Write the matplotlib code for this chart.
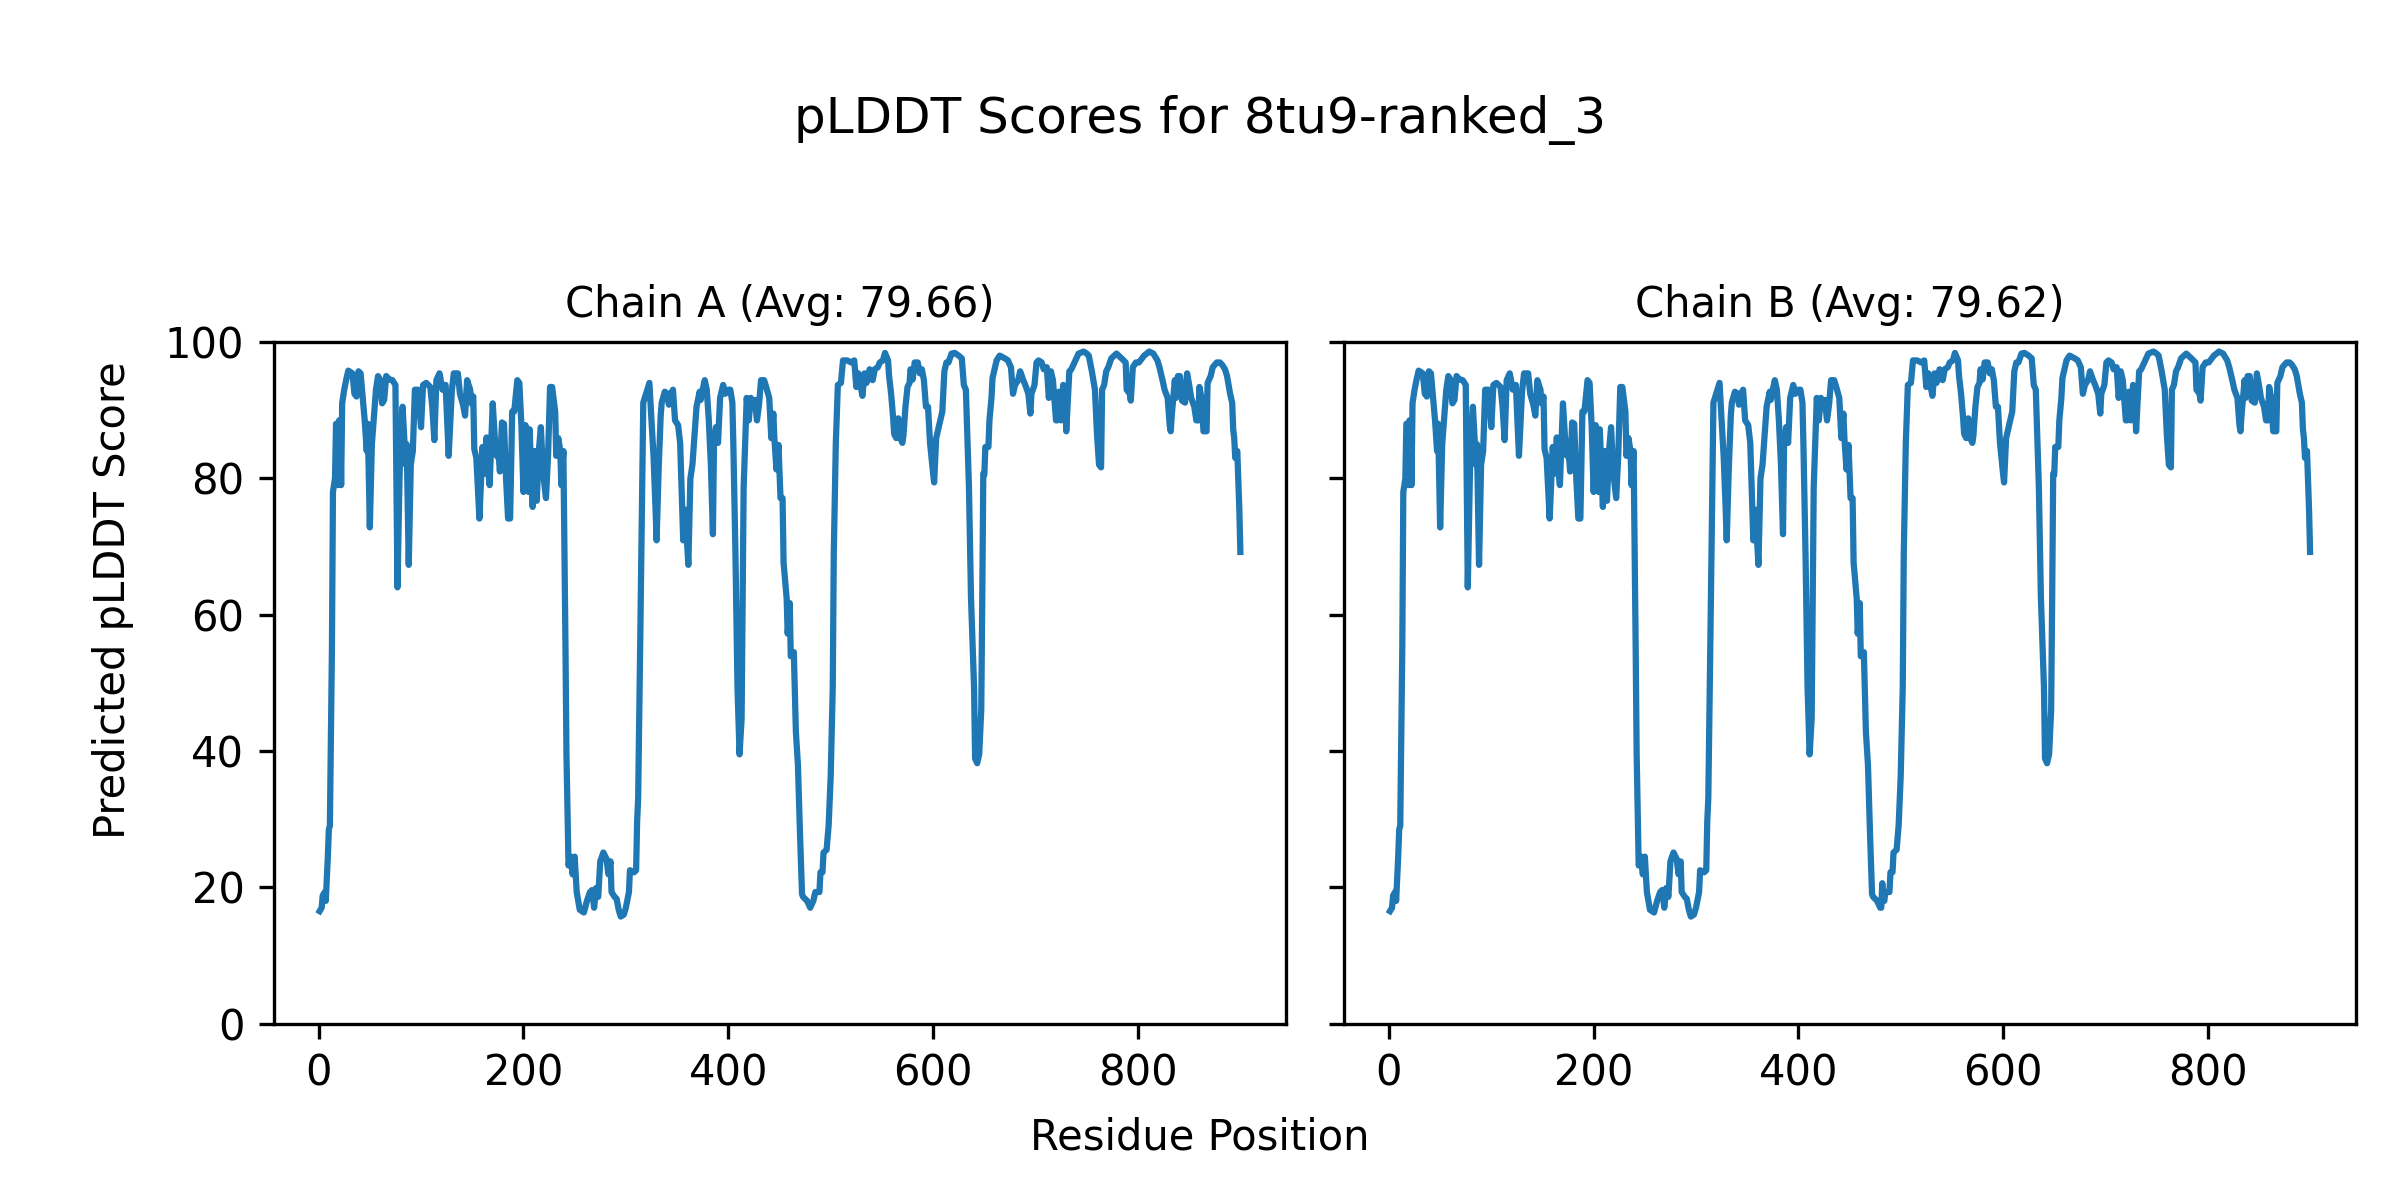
import matplotlib
matplotlib.use("Agg")
import matplotlib.pyplot as plt

LINE = "#1f77b4"

# (residue, pLDDT), chain A
chain_a_points = [
    (1, 16.5), (3, 17.0), (4, 18.8), (6, 19.3), (7, 18.0), (9, 24.5), (10, 28.5),
    (11, 29.0), (13, 55.0), (14, 78.0), (16, 80.0), (17, 88.0), (18, 88.0),
    (19, 79.0), (20, 88.5), (21, 88.5), (22, 79.0), (23, 91.0), (25, 93.0),
    (27, 94.5), (29, 95.8), (31, 95.6), (33, 95.4), (35, 92.4), (37, 92.0),
    (39, 95.7), (41, 95.4), (43, 92.0), (45, 88.5), (47, 84.0), (48, 88.0),
    (50, 72.8), (52, 85.0), (54, 89.0), (56, 93.0), (58, 95.0), (60, 94.5),
    (62, 91.0), (64, 91.5), (66, 95.0), (69, 94.5), (72, 94.4), (75, 93.7),
    (77, 64.0), (79, 80.0), (80, 86.0), (82, 90.5), (85, 82.0), (86, 85.0),
    (88, 67.3), (90, 82.0), (92, 84.0), (94, 93.0), (97, 93.0), (100, 87.5),
    (102, 93.7), (105, 94.0), (109, 93.4), (111, 90.5), (113, 85.6), (115, 94.4),
    (118, 95.4), (121, 93.0), (124, 93.7), (127, 83.3), (130, 92.7), (132, 95.4),
    (136, 95.4), (138, 92.4), (141, 90.8), (143, 89.2), (145, 94.4), (148, 93.0),
    (149, 91.0), (151, 92.0), (152, 84.3), (154, 83.0), (157, 74.1), (160, 84.6),
    (162, 80.7), (164, 86.0), (165, 82.0), (167, 79.0), (170, 91.0), (172, 86.0),
    (174, 83.3), (176, 83.0), (177, 81.0), (179, 88.2), (181, 88.0), (183, 80.0),
    (185, 74.1), (187, 74.1), (189, 89.8), (191, 89.8), (194, 94.4), (196, 94.0),
    (198, 87.8), (200, 78.0), (202, 87.8), (205, 78.0), (206, 87.2), (209, 75.8),
    (211, 84.0), (213, 76.7), (215, 84.0), (217, 87.5), (219, 81.0), (222, 77.1),
    (224, 83.3), (226, 93.4), (228, 93.4), (231, 89.8), (232, 83.3), (234, 85.9),
    (236, 84.0), (237, 79.0), (239, 84.0), (241, 55.8), (242, 39.5), (244, 23.2),
    (246, 24.5), (248, 21.9), (250, 24.5), (252, 19.3), (255, 16.7), (259, 16.3),
    (262, 18.0), (265, 19.3), (267, 19.6), (269, 17.0), (271, 19.9), (273, 18.6),
    (275, 23.8), (278, 25.1), (281, 24.2), (283, 21.9), (285, 23.8), (286, 19.3),
    (289, 18.6), (291, 18.3), (293, 16.7), (295, 15.7), (298, 16.0), (300, 17.0),
    (303, 19.3), (304, 22.5), (308, 22.2), (310, 22.5), (311, 29.7), (312, 33.0),
    (314, 55.8), (316, 80.0), (317, 91.1), (321, 93.0), (323, 94.0), (325, 88.5),
    (327, 83.3), (329, 75.4), (330, 70.9), (332, 81.3), (334, 89.2), (335, 91.1),
    (338, 92.7), (340, 92.5), (342, 90.8), (344, 92.4), (346, 93.0), (348, 88.5),
    (351, 87.8), (353, 85.2), (356, 70.9), (358, 75.4), (361, 67.3), (363, 80.0),
    (365, 82.0), (367, 86.2), (369, 90.5), (372, 92.7), (373, 91.5), (375, 93.0),
    (377, 94.4), (379, 93.0), (381, 88.5), (383, 82.0), (385, 71.8), (386, 84.6),
    (388, 87.5), (390, 85.2), (392, 91.8), (395, 93.7), (397, 92.4), (400, 93.0),
    (402, 93.0), (404, 91.1), (405, 84.6), (407, 68.9), (409, 49.3), (411, 39.5),
    (413, 44.7), (415, 78.7), (418, 91.8), (420, 88.5), (422, 91.8), (424, 90.5),
    (426, 91.5), (428, 88.5), (430, 90.8), (432, 94.4), (435, 94.4), (437, 93.4),
    (440, 91.8), (442, 85.9), (444, 89.5), (445, 85.9), (447, 81.3), (449, 84.9),
    (451, 77.1), (453, 77.1), (454, 67.6), (457, 62.4), (458, 57.2), (460, 61.7),
    (461, 53.9), (464, 54.5), (466, 42.8), (468, 38.0), (470, 28.0), (472, 19.0),
    (473, 18.6), (477, 18.0), (480, 17.0), (483, 18.0), (485, 19.3), (489, 19.3),
    (490, 22.2), (492, 22.2), (493, 25.1), (496, 25.5), (498, 29.1), (500, 36.3),
    (502, 49.3), (503, 68.9), (505, 85.2), (507, 93.7), (510, 94.0), (512, 97.3),
    (516, 97.3), (520, 97.0), (523, 97.3), (525, 93.4), (527, 95.4), (529, 93.7),
    (531, 92.1), (533, 95.4), (535, 94.0), (538, 96.0), (541, 94.4), (543, 96.0),
    (546, 96.3), (548, 97.0), (551, 97.3), (553, 98.4), (556, 97.3), (557, 95.0),
    (559, 92.4), (561, 88.8), (562, 86.5), (564, 85.9), (566, 88.8), (568, 85.9),
    (570, 85.2), (571, 86.2), (573, 90.5), (575, 93.4), (577, 94.0), (578, 96.0),
    (580, 94.5), (582, 97.0), (585, 97.0), (587, 95.4), (589, 96.0), (591, 94.4),
    (593, 90.5), (595, 90.5), (597, 85.2), (600, 80.7), (601, 79.4), (603, 85.9),
    (605, 87.2), (607, 88.5), (609, 89.8), (611, 95.7), (613, 97.0), (615, 97.0),
    (618, 98.3), (621, 98.4), (625, 98.0), (628, 97.6), (630, 93.7), (632, 93.0),
    (635, 78.7), (637, 62.4), (640, 49.3), (641, 38.9), (643, 38.2), (645, 39.5),
    (647, 46.0), (648, 62.4), (649, 80.7), (650, 80.5), (651, 84.6), (654, 84.6),
    (655, 88.5), (657, 91.8), (658, 94.7), (662, 97.3), (665, 98.0), (670, 97.6),
    (673, 97.3), (676, 96.3), (678, 92.4), (680, 93.7), (683, 94.4), (685, 95.7),
    (688, 94.4), (690, 93.7), (693, 92.4), (695, 89.5), (696, 92.4), (699, 93.7),
    (701, 97.0), (703, 97.3), (706, 97.0), (708, 96.0), (711, 96.3), (713, 91.8),
    (715, 95.7), (717, 94.4), (720, 88.5), (721, 88.5), (723, 92.7), (725, 88.5),
    (727, 93.7), (729, 92.0), (730, 86.9), (733, 95.7), (735, 96.0), (739, 97.3),
    (742, 98.3), (747, 98.6), (750, 98.3), (752, 98.0), (755, 95.7), (758, 93.0),
    (760, 86.5), (762, 82.0), (764, 81.6), (765, 93.0), (767, 93.7), (769, 95.7),
    (771, 96.3), (774, 97.6), (779, 98.3), (784, 97.6), (788, 97.0), (789, 93.0),
    (792, 92.4), (793, 91.4), (795, 96.3), (798, 97.0), (801, 97.0), (806, 98.0),
    (811, 98.6), (815, 98.3), (819, 97.3), (821, 96.3), (824, 94.4), (826, 93.0),
    (829, 91.8), (831, 87.8), (832, 86.9), (833, 89.2), (836, 94.4), (837, 91.8),
    (839, 95.0), (841, 95.0), (843, 91.4), (846, 91.1), (848, 95.4), (850, 93.7),
    (852, 91.8), (855, 90.5), (857, 88.5), (859, 88.5), (860, 93.4), (862, 91.8),
    (864, 86.9), (867, 86.9), (868, 94.0), (871, 95.0), (873, 96.3), (877, 97.0),
    (880, 97.0), (882, 96.7), (885, 96.0), (887, 95.0), (890, 92.4), (892, 91.1),
    (893, 87.2), (894, 85.9), (895, 83.0), (897, 84.0), (899, 75.4), (900, 69.2),
]

# chain B traces the same curve except for these readings
chain_b_diffs = [(481, 17.0), (482, 20.6), (484, 18.0)]

chain_a_avg = 79.66
chain_b_avg = 79.62

res_a, score_a = zip(*chain_a_points)
merged = dict(chain_a_points)
merged.update(dict(chain_b_diffs))
res_b = sorted(merged)
score_b = [merged[r] for r in res_b]

fig = plt.figure(figsize=(8, 4), dpi=300)
ax1 = fig.add_axes([0.114, 0.147, 0.422, 0.568])
ax2 = fig.add_axes([0.560, 0.147, 0.4217, 0.568], sharey=ax1)

ax1.plot(res_a, score_a, color=LINE, linewidth=1.5)
ax2.plot(res_b, score_b, color=LINE, linewidth=1.5)

ax1.set_ylim(0, 100)
ax1.set_title(f"Chain A (Avg: {chain_a_avg:.2f})", fontsize=10)
ax2.set_title(f"Chain B (Avg: {chain_b_avg:.2f})", fontsize=10)
ax2.tick_params(labelleft=False)
for ax in (ax1, ax2):
    ax.set_xticks([0, 200, 400, 600, 800])
    ax.tick_params(labelsize=10)

fig.suptitle("pLDDT Scores for 8tu9-ranked_3", fontsize=12, y=0.90, va="center")
fig.text(0.5, 0.052, "Residue Position", ha="center", va="center", fontsize=10)
fig.text(0.047, 0.5, "Predicted pLDDT Score", ha="center", va="center",
         rotation=90, fontsize=10)

fig.savefig("out.png", dpi=300, facecolor="white")
